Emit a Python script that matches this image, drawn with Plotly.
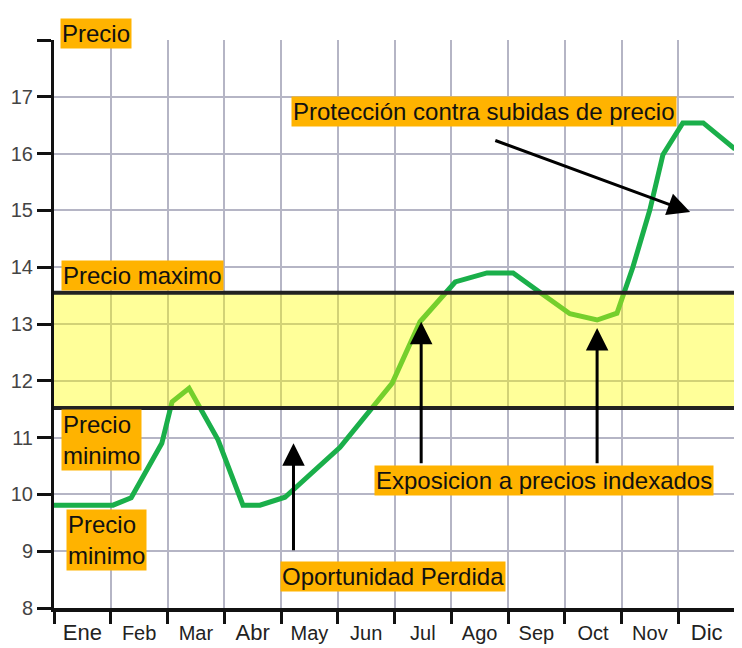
import plotly.graph_objs as go

# eje x en meses (0 = inicio de Ene, 12 = fin de Dic)
months = ["Ene", "Feb", "Mar", "Abr", "May", "Jun", "Jul", "Ago", "Sep", "Oct", "Nov", "Dic"]
month_pos = [0.5, 1.5, 2.5, 3.5, 4.5, 5.5, 6.5, 7.5, 8.5, 9.5, 10.5, 11.5]
month_edges = [0, 1, 2, 3, 4, 5, 6, 7, 8, 9, 10, 11, 12]
y_ticks = [8, 9, 10, 11, 12, 13, 14, 15, 16, 17]

# curva de precio
price_x = [0, 1.04, 1.36, 1.90, 2.08, 2.38, 2.89, 3.33, 3.63, 4.07, 5.04, 5.96, 6.45,
           7.07, 7.63, 8.09, 8.56, 9.09, 9.57, 9.92, 10.20, 10.50, 10.73, 11.08, 11.44, 12.0]
price_y = [9.81, 9.81, 9.94, 10.90, 11.63, 11.87, 10.96, 9.81, 9.81, 9.95, 10.83, 11.96, 13.04,
           13.74, 13.90, 13.90, 13.56, 13.18, 13.07, 13.19, 14.00, 15.01, 15.98, 16.54, 16.54, 16.08]

# banda de precios
precio_min = 11.52
precio_max = 13.55

FONT = "Liberation Sans"
ORANGE = "#FFB300"
GRID = "#B5B5C5"

trace = go.Scatter(
    x = price_x,
    y = price_y,
    mode = "lines",
    line = dict(color = "#1AAF4A", width = 5),
    hoverinfo = "skip"
)

fig = go.Figure(data = [trace])

# banda amarilla encima de la curva (aclara el verde)
fig.add_shape(type = "rect", xref = "x", yref = "y", x0 = 0, x1 = 12,
              y0 = precio_min, y1 = precio_max,
              fillcolor = "rgba(255,255,0,0.4)", line_width = 0, layer = "above")
for lvl in [precio_min, precio_max]:
    fig.add_shape(type = "line", xref = "x", yref = "y", x0 = 0, x1 = 12, y0 = lvl, y1 = lvl,
                  line = dict(color = "#222222", width = 4), layer = "above")

def box(text, x, y, align = "center", yref = "y"):
    fig.add_annotation(x = x, y = y, xref = "x", yref = yref, text = text, showarrow = False,
                       bgcolor = ORANGE, borderpad = 1, align = align,
                       font = dict(family = FONT, size = 24, color = "#111111"))

def arrow(x0, y0, x1, y1):
    fig.add_annotation(x = x1, y = y1, ax = x0, ay = y0, xref = "x", yref = "y",
                       axref = "x", ayref = "y", text = "", showarrow = True,
                       arrowhead = 2, arrowsize = 1.5, arrowwidth = 3, arrowcolor = "#000000")

arrow(4.22, 8.99, 4.22, 10.90)
arrow(6.47, 10.52, 6.47, 13.04)
arrow(9.57, 10.52, 9.57, 12.93)
arrow(7.75, 16.24, 11.21, 14.97)

box("Precio", 0.74, 1.038, yref = "paper")
box("Precio maximo", 1.56, 13.86)
box("Precio<br>minimo", 0.84, 10.96, align = "left")
box("Precio<br>minimo", 0.92, 9.20, align = "left")
box("Protección contra subidas de precio", 7.58, 16.74)
box("Exposicion a precios indexados", 8.63, 10.245)
box("Oportunidad Perdida", 5.98, 8.56)

big = ["Ene", "Abr", "Dic"]
tick_text = [m if m in big else "<span style='font-size:20px'>%s</span>" % m for m in months]

# la pagina tiene 8px de margen en el body: figura un poco mas chica
layout = go.Layout(
    width = 734,
    height = 640,
    margin = dict(l = 46, r = 7, t = 32, b = 40),
    paper_bgcolor = "white",
    plot_bgcolor = "white",
    showlegend = False,
    xaxis = dict(
        range = [0, 12], tickvals = month_pos, ticktext = tick_text, automargin = False,
        ticks = "", showgrid = False, ticklabelstandoff = 2,
        tickfont = dict(family = FONT, size = 22, color = "#222222"),
        minor = dict(tickvals = month_edges, ticks = "outside", ticklen = 12, tickwidth = 3,
                     tickcolor = "#111111", showgrid = True, gridcolor = GRID, gridwidth = 2),
        showline = True, linecolor = "#111111", linewidth = 4, zeroline = False
    ),
    yaxis = dict(
        range = [8, 18], tickvals = y_ticks, automargin = False,
        ticks = "outside", ticklen = 14, tickwidth = 3, tickcolor = "#111111",
        showgrid = True, gridcolor = GRID, gridwidth = 2,
        minor = dict(tickvals = [18], ticks = "outside", ticklen = 14, tickwidth = 3,
                     tickcolor = "#111111", showgrid = False),
        showline = True, linecolor = "#111111", linewidth = 3, zeroline = False,
        tickfont = dict(family = FONT, size = 20, color = "#444444")
    )
)

fig.update_layout(layout)
fig.write_html("out.html")
